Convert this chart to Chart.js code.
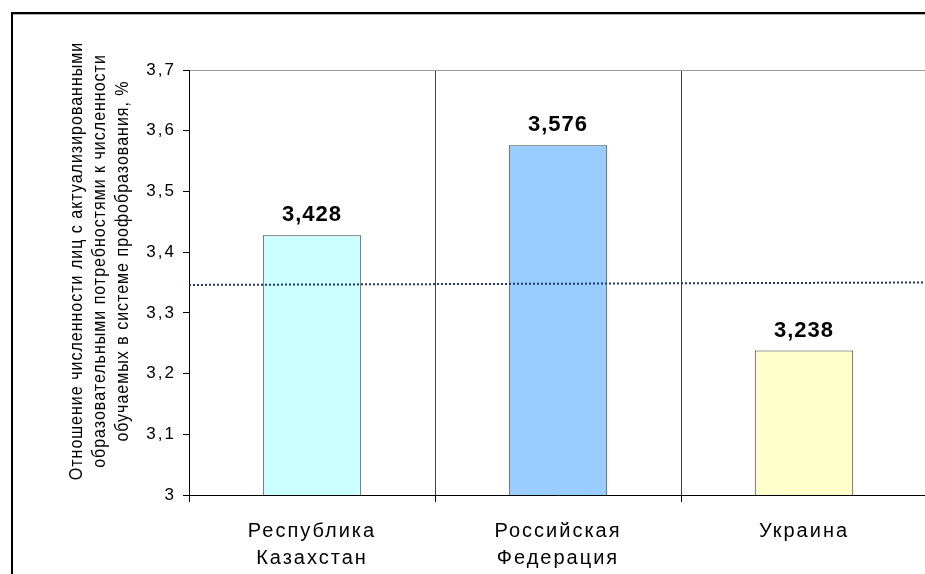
<!DOCTYPE html>
<html lang="ru">
<head>
    <meta charset="UTF-8">
    <title>Отношение численности</title>
    <style>
        html, body {
            margin: 0;
            padding: 0;
            background: #fff;
            overflow: hidden;
        }
        #wrap {
            position: relative;
            width: 925px;
            height: 574px;
            overflow: hidden;
        }
        canvas {
            position: absolute;
            left: 0;
            top: 0;
        }
    </style>
    <script src="https://cdn.jsdelivr.net/npm/chart.js"></script>
</head>
<body>
    <div id="wrap">
        <canvas id="chart" width="930" height="574"></canvas>
    </div>

    <script>
        // данные
        const categories = [['Республика', 'Казахстан'], ['Российская', 'Федерация'], ['Украина']];
        const values = [3.428, 3.576, 3.238];
        const barColors = ['#CCFFFF', '#99CCFF', '#FFFFCC'];
        const levelLine = [3.346, 3.350];
        const yTitle = [
            'Отношение численности лиц с актуализированными',
            'образовательными потребностями к численности',
            'обучаемых в системе профобразования, %'
        ];

        const fmt = v => String(Number(v.toFixed(3))).replace('.', ',');

        // текст: разрядка букв
        const spacing = {
            id: 'spacing',
            beforeDraw(chart) { chart.ctx.letterSpacing = '2px'; },
            afterDraw(chart) { chart.ctx.letterSpacing = '0px'; }
        };

        // рамка
        const frame = {
            id: 'frame',
            afterDraw(chart) {
                const ctx = chart.ctx;
                ctx.save();
                ctx.fillStyle = '#000';
                ctx.fillRect(11, 12, 2, 600);
                ctx.fillRect(11, 12, 940, 2);
                ctx.fillStyle = '#b0b0b0';
                ctx.fillRect(13, 14, 940, 1);
                ctx.restore();
            }
        };

        // подпись оси Y (три строки)
        const titleY = {
            id: 'titleY',
            afterDraw(chart) {
                const ctx = chart.ctx;
                const xs = [77, 100, 123];
                ctx.save();
                ctx.letterSpacing = '1px';
                ctx.font = '16px Arial';
                ctx.fillStyle = '#000';
                ctx.textAlign = 'center';
                ctx.textBaseline = 'middle';
                yTitle.forEach((line, i) => {
                    ctx.save();
                    ctx.translate(xs[i], 261);
                    ctx.scale(1.2, 1);
                    ctx.rotate(-Math.PI / 2);
                    ctx.fillText(line, 0, 0);
                    ctx.restore();
                });
                ctx.restore();
            }
        };

        // значения над столбцами
        const valueLabels = {
            id: 'valueLabels',
            afterDatasetsDraw(chart) {
                const ctx = chart.ctx;
                const meta = chart.getDatasetMeta(0);
                ctx.save();
                ctx.letterSpacing = '1px';
                ctx.font = 'bold 22px Arial';
                ctx.fillStyle = '#000';
                ctx.textAlign = 'center';
                ctx.textBaseline = 'alphabetic';
                meta.data.forEach((bar, i) => {
                    ctx.fillText(fmt(values[i]), bar.x, bar.y - 14);
                });
                ctx.restore();
            }
        };

        new Chart(document.getElementById('chart'), {
            data: {
                labels: categories,
                datasets: [{
                    type: 'bar',
                    data: values,
                    backgroundColor: barColors,
                    borderColor: '#404040',
                    borderWidth: 1,
                    borderSkipped: 'bottom',
                    barPercentage: 0.4,
                    categoryPercentage: 1.0,
                    grouped: false,
                    order: 1
                }, {
                    type: 'line',
                    xAxisID: 'x2',
                    data: [{ x: 0, y: levelLine[0] }, { x: 1, y: levelLine[1] }],
                    borderColor: '#1F3864',
                    borderWidth: 2,
                    borderDash: [2, 2],
                    pointRadius: 0,
                    fill: false,
                    order: 0
                }]
            },
            options: {
                responsive: false,
                animation: false,
                layout: { padding: { top: 70, right: 3, left: 0, bottom: 0 } },
                plugins: {
                    legend: { display: false },
                    tooltip: { enabled: false }
                },
                scales: {
                    x: {
                        type: 'category',
                        offset: true,
                        grid: {
                            offset: true,
                            color: '#404040',
                            tickColor: '#000',
                            tickLength: 7
                        },
                        border: { color: '#000', width: 1 },
                        ticks: {
                            color: '#000',
                            font: { family: 'Arial', size: 20, lineHeight: 1.35 },
                            padding: 16,
                            maxRotation: 0
                        },
                        afterFit(scale) { scale.height = 79; }
                    },
                    x2: {
                        type: 'linear',
                        display: false,
                        min: 0,
                        max: 1
                    },
                    y: {
                        min: 3,
                        max: 3.7,
                        ticks: {
                            stepSize: 0.1,
                            color: '#000',
                            font: { family: 'Arial', size: 17 },
                            padding: 7,
                            callback: v => String(Number(v.toFixed(1))).replace('.', ',')
                        },
                        grid: {
                            color: c => (c.tick && Math.abs(c.tick.value - 3.7) < 1e-6) ? '#999999' : 'rgba(0,0,0,0)',
                            tickColor: '#000',
                            tickLength: 6
                        },
                        border: { color: '#000', width: 1 },
                        afterFit(scale) { scale.width = 189; }
                    }
                }
            },
            plugins: [spacing, valueLabels, frame, titleY]
        });
    </script>
</body>
</html>
